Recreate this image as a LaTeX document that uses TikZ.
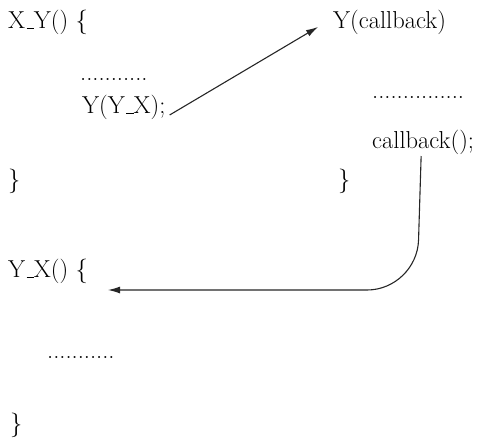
\documentclass[tikz,border=0pt]{standalone}
\usetikzlibrary{arrows.meta}
\newcommand\shortus{\leavevmode\kern.06em\vbox{\hrule width.3em height .45pt}}
\begin{document}
\begin{tikzpicture}[x=1pt,y=-1pt,
  code/.style={anchor=base west,inner sep=0pt,font=\fontsize{24.5}{28}\selectfont},
  conn/.style={line width=1.1pt,draw=black!85,-{Latex[length=12pt,width=7pt]}}]
\useasboundingbox (0,0) rectangle (479,437);
\node[code] (xy) at (8,28) {X\shortus Y() \{};
\node[code] (ycb) at (333,28) {Y(callback)};
\node[code] (d1) at (80,80) {...........};
\node[code] (call) at (82,113) {Y(Y\shortus X);};
\node[code] (d2) at (372,98) {...............};
\node[code] (cb) at (372,148) {callback();};
\node[code] (c1) at (8,187) {\}};
\node[code] (c2) at (338,187) {\}};
\node[code] (yx) at (8,277) {Y\shortus X() \{};
\node[code] (d3) at (47,358) {...........};
\node[code] (c3) at (10,431) {\}};
\coordinate (tip) at (108,290);
\coordinate (ytip) at (318,27);
\draw[conn] ([xshift=4pt,yshift=-2pt]call.base east) -- (ytip);
\draw[conn,rounded corners=50pt] ([xshift=-2pt,yshift=-8pt]cb.base) -- (417,290) -- (tip);
\end{tikzpicture}
\end{document}
